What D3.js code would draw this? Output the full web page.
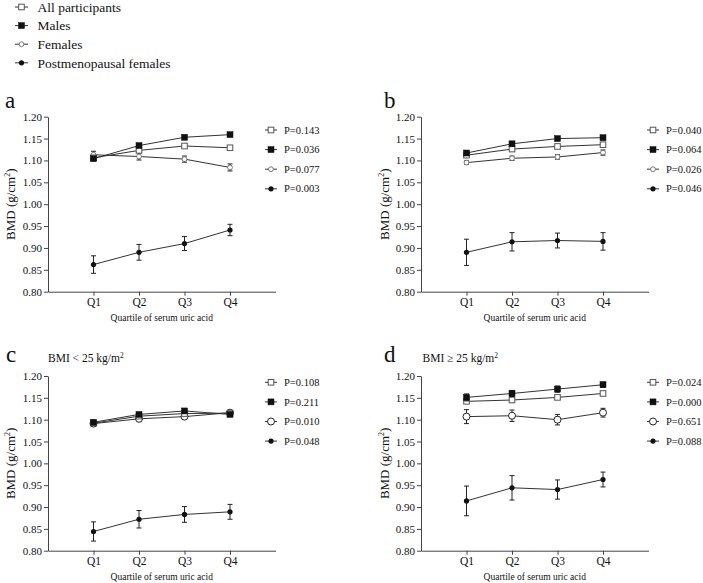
<!DOCTYPE html>
<html><head><meta charset="utf-8">
<script src="https://cdn.jsdelivr.net/npm/d3@7"></script>
<style>
body{margin:0;background:#fff}
svg, svg text, svg g{font-family:"Liberation Serif","Times New Roman",Times,serif !important}
svg text{fill:#111}
</style>
</head><body>
<svg id="chart" width="703" height="583" font-family="Liberation Serif, Times New Roman, serif"></svg>
<script>
// ---------- data ----------
const quartiles = ["Q1", "Q2", "Q3", "Q4"];
const seriesNames = ["All participants", "Males", "Females", "Postmenopausal females"];
const yTicks = [0.80, 0.85, 0.90, 0.95, 1.00, 1.05, 1.10, 1.15, 1.20];
const xTitle = "Quartile of serum uric acid";

// panel a
const aAll = [1.106, 1.123, 1.133, 1.129];
const aAllErr = [0.003, 0.003, 0.003, 0.003];
const aMales = [1.104, 1.134, 1.153, 1.159];
const aMalesErr = [0.004, 0.004, 0.004, 0.004];
const aFemales = [1.113, 1.109, 1.103, 1.084];
const aFemalesErr = [0.008, 0.008, 0.007, 0.008];
const aPost = [0.862, 0.890, 0.910, 0.941];
const aPostErr = [0.020, 0.018, 0.016, 0.013];
const aP = ["P=0.143", "P=0.036", "P=0.077", "P=0.003"];

// panel b
const bAll = [1.112, 1.126, 1.132, 1.136];
const bAllErr = [0.004, 0.004, 0.004, 0.004];
const bMales = [1.117, 1.138, 1.150, 1.152];
const bMalesErr = [0.004, 0.004, 0.004, 0.004];
const bFemales = [1.095, 1.105, 1.108, 1.118];
const bFemalesErr = [0.004, 0.005, 0.005, 0.006];
const bPost = [0.890, 0.914, 0.917, 0.915];
const bPostErr = [0.030, 0.021, 0.017, 0.020];
const bP = ["P=0.040", "P=0.064", "P=0.026", "P=0.046"];

// panel c (BMI < 25)
const cAll = [1.092, 1.108, 1.114, 1.115];
const cAllErr = [0.003, 0.004, 0.005, 0.004];
const cMales = [1.094, 1.112, 1.120, 1.112];
const cMalesErr = [0.004, 0.004, 0.005, 0.004];
const cFemales = [1.091, 1.102, 1.107, 1.116];
const cFemalesErr = [0.004, 0.004, 0.005, 0.004];
const cPost = [0.844, 0.872, 0.883, 0.889];
const cPostErr = [0.022, 0.020, 0.018, 0.017];
const cP = ["P=0.108", "P=0.211", "P=0.010", "P=0.048"];

// panel d (BMI >= 25)
const dAll = [1.142, 1.145, 1.151, 1.160];
const dAllErr = [0.004, 0.004, 0.004, 0.004];
const dMales = [1.151, 1.160, 1.170, 1.180];
const dMalesErr = [0.008, 0.007, 0.007, 0.006];
const dFemales = [1.107, 1.109, 1.100, 1.116];
const dFemalesErr = [0.016, 0.013, 0.012, 0.010];
const dPost = [0.914, 0.944, 0.940, 0.963];
const dPostErr = [0.034, 0.028, 0.022, 0.017];
const dP = ["P=0.024", "P=0.000", "P=0.651", "P=0.088"];

// ---------- layout ----------
const FONT = "'Liberation Serif', 'Times New Roman', Times, serif";
const panels = [
  {letter: "a", sub: null, left: 48, top: 116.7, bottom: 291.7, letterX: 5, letterY: 108, ylabX: 15,
   legX: 265, legY: 130, femaleMarker: "circSmall",
   series: [[aAll, aAllErr], [aMales, aMalesErr], [aFemales, aFemalesErr], [aPost, aPostErr]], p: aP},
  {letter: "b", sub: null, left: 421, top: 116.7, bottom: 291.7, letterX: 384, letterY: 108, ylabX: 389,
   legX: 647, legY: 130, femaleMarker: "circSmall",
   series: [[bAll, bAllErr], [bMales, bMalesErr], [bFemales, bFemalesErr], [bPost, bPostErr]], p: bP},
  {letter: "c", sub: "BMI < 25 kg/m", left: 48, top: 376, bottom: 550.7, letterX: 6, letterY: 361.5, ylabX: 15,
   legX: 265, legY: 382.3, femaleMarker: "circOpen",
   series: [[cAll, cAllErr], [cMales, cMalesErr], [cFemales, cFemalesErr], [cPost, cPostErr]], p: cP},
  {letter: "d", sub: "BMI \u2265 25 kg/m", left: 421, top: 376, bottom: 550.7, letterX: 384, letterY: 361.5, ylabX: 389,
   legX: 647, legY: 382.3, femaleMarker: "circOpen",
   series: [[dAll, dAllErr], [dMales, dMalesErr], [dFemales, dFemalesErr], [dPost, dPostErr]], p: dP},
];
const step = 45.5;
const svg = d3.select("#chart");

function marker(g, type, x, y) {
  if (type === "sqOpen") {
    g.append("rect").attr("x", x - 2.8).attr("y", y - 2.8).attr("width", 5.6).attr("height", 5.6)
      .attr("fill", "#fff").attr("stroke", "#555").attr("stroke-width", 1);
  } else if (type === "sqFill") {
    g.append("rect").attr("x", x - 3).attr("y", y - 3).attr("width", 6).attr("height", 6)
      .attr("fill", "#111").attr("stroke", "#111").attr("stroke-width", 0.5);
  } else if (type === "circSmall") {
    g.append("circle").attr("cx", x).attr("cy", y).attr("r", 2.4)
      .attr("fill", "#fff").attr("stroke", "#777").attr("stroke-width", 1);
  } else if (type === "circOpen") {
    g.append("circle").attr("cx", x).attr("cy", y).attr("r", 3.5)
      .attr("fill", "#fff").attr("stroke", "#222").attr("stroke-width", 1);
  } else if (type === "circFill") {
    g.append("circle").attr("cx", x).attr("cy", y).attr("r", 2.6)
      .attr("fill", "#111");
  }
}

panels.forEach(p => {
  const g = svg.append("g");
  const x = d3.scaleLinear().domain([0, 5]).range([p.left, p.left + step * 5]);
  const y = d3.scaleLinear().domain([0.80, 1.20]).range([p.bottom, p.top]);
  const markers = ["sqOpen", "sqFill", p.femaleMarker, "circFill"];

  // axes
  const ya = g.append("g").attr("transform", `translate(${p.left},0)`)
    .call(d3.axisLeft(y).tickValues(yTicks).tickFormat(d3.format(".2f")).tickSize(4).tickSizeOuter(0).tickPadding(2));
  ya.attr("font-family", FONT).attr("font-size", 11);
  ya.selectAll("text").style("font-family", FONT).style("font-size", "11px").attr("fill", "#111");
  const xa = g.append("g").attr("transform", `translate(0,${p.bottom})`)
    .call(d3.axisBottom(x).tickValues([1, 2, 3, 4]).tickFormat(d => quartiles[d - 1]).tickSize(4).tickSizeOuter(0).tickPadding(2));
  xa.attr("font-family", FONT).attr("font-size", 11.5);
  xa.selectAll("text").style("font-family", FONT).style("font-size", "11.5px").attr("fill", "#111");
  g.selectAll(".domain, .tick line").attr("stroke", "#444");

  // x title
  g.append("text").attr("x", p.left + step * 2.5).attr("y", p.bottom + 29.5)
    .attr("text-anchor", "middle").style("font-family", FONT).style("font-size", "9.5px").text(xTitle);

  // y title
  const yl = g.append("text").attr("transform", `translate(${p.ylabX},${(p.top + p.bottom) / 2}) rotate(-90)`)
    .attr("text-anchor", "middle").style("font-family", FONT).style("font-size", "13px");
  yl.append("tspan").text("BMD (g/cm");
  yl.append("tspan").attr("dy", -5).style("font-size", "8px").text("2");
  yl.append("tspan").attr("dy", 5).text(")");

  // panel letter
  g.append("text").attr("x", p.letterX).attr("y", p.letterY)
    .style("font-family", FONT).style("font-size", "23px").text(p.letter);
  if (p.sub) {
    const st = g.append("text").attr("x", p.left + (p.left > 100 ? 1.5 : 0)).attr("y", p.letterY)
      .style("font-family", FONT).style("font-size", "11.5px");
    st.append("tspan").text(p.sub);
    st.append("tspan").attr("dy", -4).style("font-size", "7.5px").text("2");
  }

  // series: draw in order post, females, all, males
  [3, 2, 0, 1].forEach(si => {
    const [vals, errs] = p.series[si];
    const line = d3.line().x((d, i) => x(i + 1)).y(d => y(d));
    g.append("path").attr("d", line(vals)).attr("fill", "none").attr("stroke", "#333").attr("stroke-width", 1);
    vals.forEach((v, i) => {
      const cx = x(i + 1);
      g.append("line").attr("x1", cx).attr("x2", cx).attr("y1", y(v - errs[i])).attr("y2", y(v + errs[i]))
        .attr("stroke", "#222").attr("stroke-width", 1);
      [v - errs[i], v + errs[i]].forEach(e => {
        g.append("line").attr("x1", cx - 2.5).attr("x2", cx + 2.5).attr("y1", y(e)).attr("y2", y(e))
          .attr("stroke", "#222").attr("stroke-width", 1);
      });
    });
    vals.forEach((v, i) => marker(g, markers[si], x(i + 1), y(v)));
  });

  // panel legend
  p.p.forEach((t, i) => {
    const ly = p.legY + i * 19.6;
    g.append("line").attr("x1", p.legX).attr("x2", p.legX + 12).attr("y1", ly).attr("y2", ly)
      .attr("stroke", "#333").attr("stroke-width", 1);
    marker(g, markers[i], p.legX + 6, ly);
    g.append("text").attr("x", p.legX + 19).attr("y", ly).attr("dy", "0.35em")
      .style("font-family", FONT).style("font-size", "10.5px").text(t);
  });
});

// top legend
const topMarkers = ["sqOpen", "sqFill", "circSmall", "circFill"];
seriesNames.forEach((n, i) => {
  const ly = 7 + i * 18.6;
  svg.append("line").attr("x1", 15).attr("x2", 28).attr("y1", ly).attr("y2", ly)
    .attr("stroke", "#333").attr("stroke-width", 1);
  marker(svg, topMarkers[i], 21.5, ly);
  svg.append("text").attr("x", 37.5).attr("y", ly).attr("dy", "0.35em")
    .style("font-family", FONT).style("font-size", "13.5px").text(n);
});
</script>
</body></html>
